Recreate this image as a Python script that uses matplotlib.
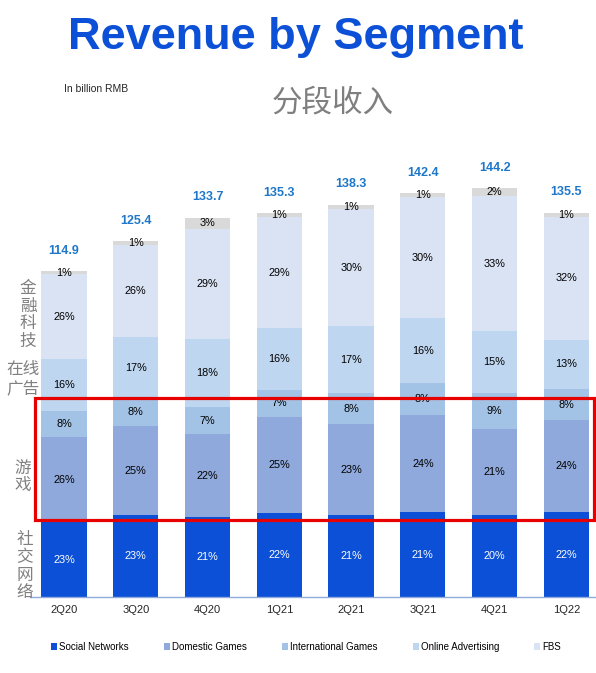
import numpy as np
import matplotlib
matplotlib.use("Agg")
import matplotlib.pyplot as plt
from matplotlib.patches import Rectangle, Patch

plt.rcParams['font.family'] = ['Liberation Sans', 'Noto Sans CJK SC', 'DejaVu Sans']

quarters = ['2Q20', '3Q20', '4Q20', '1Q21', '2Q21', '3Q21', '4Q21', '1Q22']
totals = [114.9, 125.4, 133.7, 135.3, 138.3, 142.4, 144.2, 135.5]

# shares in % (bottom to top)
social_networks = [23, 23, 21, 22, 21, 21, 20, 22]
domestic_games = [26, 25, 22, 25, 23, 24, 21, 24]
intl_games = [8, 8, 7, 7, 8, 8, 9, 8]
online_ads = [16, 17, 18, 16, 17, 16, 15, 13]
fbs = [26, 26, 29, 29, 30, 30, 33, 32]
others = [1, 1, 3, 1, 1, 1, 2, 1]

series = [social_networks, domestic_games, intl_games, online_ads, fbs, others]
names = ['Social Networks', 'Domestic Games', 'International Games',
         'Online Advertising', 'FBS', None]
colors = ['#0B50D6', '#8FA9DC', '#A3C3E6', '#BED6EF', '#DAE3F3', '#D9D9D9']
text_colors = ['white', 'black', 'black', 'black', 'black', 'black']

fig = plt.figure(figsize=(5.96, 6.73), dpi=100)
ax = fig.add_axes([0.0508, 1 - 597 / 673, 0.95, 447 / 673])

x = np.arange(len(quarters))
totals_arr = np.array(totals)
bottom = np.zeros(len(quarters))
for vals, name, col, tc in zip(series, names, colors, text_colors):
    h = np.array(vals) / 100 * totals_arr
    ax.bar(x, h, width=0.63, bottom=bottom, color=col, linewidth=0)
    for xi, b, hi, v in zip(x, bottom, h, vals):
        ax.text(xi, b + hi / 2, f'{v}%', ha='center', va='center',
                fontsize=7.8, color=tc)
    bottom = bottom + h

for xi, t in zip(x, totals):
    ax.text(xi, t + 7.2, f'{t}', ha='center', va='center', fontsize=9,
            fontweight='bold', color='#1F77C9')

ax.set_xlim(-0.47, 7.42)
ax.set_ylim(0, 157.6)
ax.set_yticks([])
ax.set_xticks(x)
ax.set_xticklabels(quarters, fontsize=8, color='#262626')
ax.tick_params(axis='x', length=0, pad=6)
for s in ['top', 'right', 'left']:
    ax.spines[s].set_visible(False)
ax.spines['bottom'].set_color('#8FAADC')
ax.spines['bottom'].set_linewidth(1.0)

# titles
fig.text(296 / 596, 1 - 37 / 673, 'Revenue by Segment', ha='center', va='center',
         fontsize=32.5, fontweight='bold', color='#0B50D6')
fig.text(64 / 596, 1 - 89 / 673, 'In billion RMB', ha='left', va='center',
         fontsize=7.5, color='#262626')
fig.text(333 / 596, 1 - 103 / 673, '分段收入', ha='center', va='center',
         fontsize=22, color='#7F7F7F')

# side annotations
gray = '#808080'
side_kw = dict(ha='center', va='center', fontsize=12, color=gray, linespacing=1.22)
fig.text(28 / 596, 1 - 315 / 673, '金\n融\n科\n技', **side_kw)
fig.text(23 / 596, 1 - 379 / 673, '在线\n广告', **side_kw)
fig.text(23 / 596, 1 - 477 / 673, '游\n戏', **side_kw)
fig.text(25 / 596, 1 - 566 / 673, '社\n交\n网\n络', **side_kw)

# highlight box
fig.patches.append(Rectangle((35 / 596, 1 - 520 / 673), (594 - 35) / 596,
                             (520 - 398) / 673, transform=fig.transFigure,
                             fill=False, edgecolor='#E60000', linewidth=2.3))

handles = [Patch(facecolor=c, label=n) for c, n in zip(colors[:5], names[:5])]
fig.legend(handles=handles, loc='center', bbox_to_anchor=(306 / 596, 1 - 647 / 673),
           ncol=5, frameon=False, fontsize=7, handlelength=0.6, handleheight=0.6,
           handletextpad=0.2, columnspacing=3.65)

fig.savefig('out.png', dpi=100)
